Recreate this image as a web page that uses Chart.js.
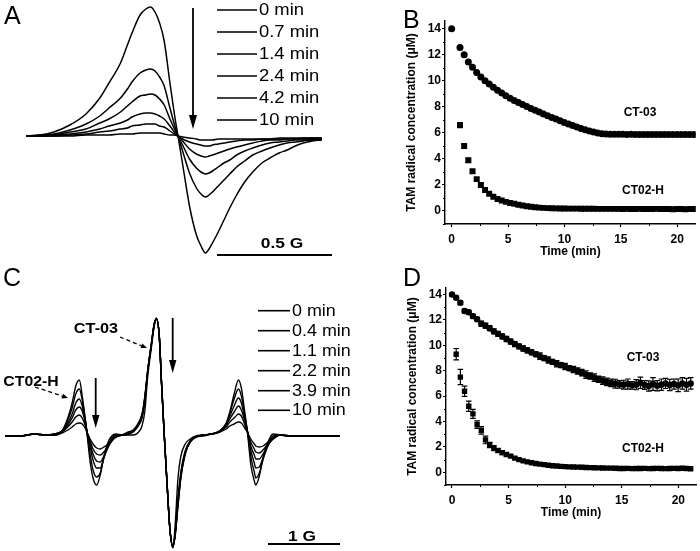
<!DOCTYPE html>
<html>
<head>
<meta charset="utf-8">
<script src="https://cdn.jsdelivr.net/npm/chart.js@4.4.0/dist/chart.umd.min.js"></script>
<style>
  body { margin: 0; background: #fff; width: 700px; height: 551px; position: relative; overflow: hidden;
         font-family: "Liberation Sans", Arial, sans-serif; }
  canvas { position: absolute; }
  .t { position: absolute; line-height: 1; white-space: nowrap; color: #000; transform-origin: left center; }
  svg { position: absolute; left: 0; top: 0; }
</style>
</head>
<body>
<canvas id="cA" width="350" height="270" style="left:0;top:0"></canvas>
<canvas id="cB" width="350" height="270" style="left:350px;top:0"></canvas>
<canvas id="cC" width="350" height="271" style="left:0;top:280px"></canvas>
<canvas id="cD" width="350" height="271" style="left:350px;top:280px"></canvas>

<svg width="700" height="551">
  <g stroke="#000" stroke-width="1.6" fill="none">
    <!-- legend A -->
    <line x1="217" y1="10" x2="257" y2="10"/><line x1="217" y1="32" x2="257" y2="32"/>
    <line x1="217" y1="54" x2="257" y2="54"/><line x1="217" y1="76" x2="257" y2="76"/>
    <line x1="217" y1="98" x2="257" y2="98"/><line x1="217" y1="120" x2="257" y2="120"/>
    <line x1="217" y1="255" x2="332" y2="255" stroke-width="2"/>
    <line x1="193" y1="8" x2="193" y2="118" stroke-width="1.8"/>
    <!-- legend C -->
    <line x1="258" y1="310.7" x2="290" y2="310.7"/><line x1="258" y1="330.7" x2="290" y2="330.7"/>
    <line x1="258" y1="350.7" x2="290" y2="350.7"/><line x1="258" y1="370.7" x2="290" y2="370.7"/>
    <line x1="258" y1="390.7" x2="290" y2="390.7"/><line x1="258" y1="410.3" x2="290" y2="410.3"/>
    <line x1="268" y1="544" x2="340" y2="544" stroke-width="2"/>
    <line x1="95.7" y1="378" x2="95.7" y2="418" stroke-width="1.8"/>
    <line x1="172.7" y1="318" x2="172.7" y2="363" stroke-width="1.8"/>
    <line x1="120" y1="337" x2="142" y2="346" stroke-width="1.3" stroke-dasharray="4 3"/>
    <line x1="35" y1="387" x2="63" y2="396.3" stroke-width="1.3" stroke-dasharray="4 3"/>
  </g>
  <g fill="#000">
    <polygon points="189,115 197,115 193,129"/>
    <polygon points="92,415 99.4,415 95.7,428"/>
    <polygon points="169,360 176.4,360 172.7,373"/>
    <polygon points="147,348 140.5,348 142.4,343.4"/>
    <polygon points="68,398 61.5,398.5 63.1,393.7"/>
  </g>
</svg>

<script>
// ---- panel A: EPR spectra (field in G, signal in arbitrary units)
const fieldA = [-0.66,-0.6,-0.54,-0.47,-0.4,-0.34,-0.3,-0.25,-0.22,-0.2,-0.165,-0.14,-0.12,-0.1,-0.08,-0.06,-0.035,-0.015,0,0.02,
  0.05,0.08,0.1,0.12,0.135,0.15,0.175,0.2,0.225,0.255,0.29,0.325,0.365,0.4,0.44,0.475,0.51,0.545,0.585,0.625];
const a0min  = [0,1,4,11,22,38,53,73,91,103,121,127,129,124,113,95,53,21,0,-28,-70,-99,-110,-117,-113,-107,-96,-84,-72,-59,-46,-36,-27,-22,-17,-14,-10,-7,-5,-4];
const a07min = [0,1,2,6,12,20,28,38,47,54,63,66,67,65,59,50,28,11,0,-15,-37,-52,-58,-61,-59,-56,-50,-44,-38,-31,-25,-19,-15,-12,-9,-7,-6,-5,-4,-4];
const a14min = [0,0,1,4,7,13,17,24,30,34,40,41,42,41,37,31,17,7,0,-9,-23,-32,-36,-38,-37,-35,-31,-27,-24,-19,-15,-12,-9,-7,-6,-5,-4,-4,-3,-3];
const a24min = [0,0,1,2,4,7,10,13,16,19,22,23,23,22,20,17,10,4,0,-5,-13,-18,-20,-21,-20,-19,-17,-15,-13,-11,-9,-7,-5,-4,-4,-3,-3,-3,-3,-3];
const a42min = [0,0,0,1,2,4,5,7,8,10,11,12,12,12,10,9,5,2,0,-3,-6,-8,-9,-10,-10,-9,-8,-7,-6,-5,-4,-4,-3,-3,-3,-3,-3,-2,-2,-2];
const a10min = [0,0,0,0,1,1,1,2,2,2,3,3,3,3,3,2,1,1,0,-1,-2,-3,-4,-4,-4,-4,-3,-3,-3,-3,-3,-3,-3,-3,-2,-2,-2,-2,-2,-2];
const legendA = ['0 min','0.7 min','1.4 min','2.4 min','4.2 min','10 min'];

// ---- panel C: mixture spectra
const fieldC = [-2.21,-2.0,-1.8,-1.66,-1.52,-1.42,-1.34,-1.28,-1.23,-1.18,-1.14,-1.1,-1.07,-1.03,-0.99,-0.94,-0.89,-0.84,-0.78,-0.73,
  -0.67,-0.59,-0.5,-0.43,-0.37,-0.31,-0.27,-0.23,-0.18,-0.14,-0.11,-0.07,-0.04,0,0.04,0.08,0.12,0.15,0.19,0.23,
  0.29,0.36,0.44,0.54,0.66,0.77,0.86,0.91,0.97,1.03,1.07,1.11,1.16,1.2,1.25,1.27,1.32,1.37,1.44,1.51,1.61,1.75,1.95,2.16,2.44];
const c0min  = [0,0,2,1, 1,5,18,33,50,56,40,18,0, -26,-42,-49,-39,-21,-6,0,2,1,1, 1,3,10,25,60,88,110,118,100,55, 0,-50,-95,-112,-90,-42,-20,-8,-3,0, 1,2,4,12,24,42,56,48,28,0, -28,-45,-49,-40,-22,-6,2,1,0,0,0,0];
const c04min = [0,0,2,1, 1,5,16,28,42,47,36,18,2, -18,-34,-41,-37,-22,-9,-2,1,1,2, 4,9,18,35,64,91,111,117,100,55, 0,-50,-95,-111,-97,-62,-36,-15,-5,-1, 1,2,5,13,23,37,47,40,24,2, -20,-36,-42,-37,-24,-9,0,1,0,0,0,0];
const c11min = [0,0,2,1, 2,5,13,22,33,37,30,16,3, -11,-24,-32,-32,-22,-11,-4,0,1,2, 5,10,19,37,65,91,112,117,100,55, 0,-50,-95,-111,-98,-65,-38,-16,-5,-1, 1,2,5,12,20,30,38,33,20,3, -14,-27,-32,-31,-22,-10,-2,1,0,0,0,0];
const c22min = [0,0,2,1, 2,5,11,18,26,29,25,14,3, -8,-18,-25,-26,-20,-11,-5,-1,1,2, 5,11,20,38,65,92,112,117,100,55, 0,-50,-95,-111,-99,-67,-40,-17,-6,-1, 1,2,5,11,17,24,30,26,17,3, -10,-19,-23,-23,-18,-9,-3,1,0,0,0,0];
const c39min = [0,0,2,1, 2,4,9,14,19,21,18,11,3, -5,-13,-18,-19,-16,-10,-5,-1,1,3, 6,11,21,39,66,92,112,117,100,55, 0,-50,-95,-110,-100,-69,-41,-18,-6,-1, 1,2,5,9,14,18,22,20,13,3, -6,-13,-16,-17,-14,-8,-3,1,0,0,0,0];
const c10min = [0,0,2,1, 1,3,6,9,12,13,12,8,3, -3,-8,-12,-13,-11,-8,-4,-1,1,4, 6,12,22,40,66,92,112,117,100,55, 0,-50,-95,-110,-100,-70,-42,-18,-6,-1, 0,2,4,7,10,12,14,13,9,3, -3,-8,-10,-11,-10,-6,-2,1,0,0,0,0];
const legendC = ['0 min','0.4 min','1.1 min','2.2 min','3.9 min','10 min'];

// ---- panels B and D: radical concentration (uM) vs time (min)
const timeMin = [0,0.37,0.74,1.11,1.48,1.85,2.22,2.59,2.96,3.33,3.70,4.07,4.44,4.81,5.18,5.55,5.92,6.29,6.66,7.03,
  7.40,7.77,8.14,8.51,8.88,9.25,9.62,9.99,10.36,10.73,11.10,11.47,11.84,12.21,12.58,12.95,13.32,13.69,14.06,14.43,
  14.80,15.17,15.54,15.91,16.28,16.65,17.02,17.39,17.76,18.13,18.50,18.87,19.24,19.61,19.98,20.35,20.72,21.09,21.46];
const bCT03 = [14.0,null,12.56,12.0,11.45,11.05,10.65,10.3,10.0,9.75, 9.5,9.28,9.06,8.86,8.67,8.5,8.34,8.18,8.03,7.88,
  7.74,7.6,7.46,7.32,7.19,7.06,6.93,6.8,6.68,6.56, 6.45,6.34,6.24,6.15,6.07,6.0,5.94,5.91,5.9,5.9,
  5.89,5.89,5.88,5.89,5.88,5.88,5.87,5.88,5.88,5.87, 5.88,5.87,5.88,5.87,5.87,5.88,5.87,5.87,5.87];
const bCT02H = [null,null,6.6,5.0,3.9,3.05,2.45,2.0,1.62,1.32, 1.1,0.92,0.8,0.7,0.62,0.55,0.48,0.42,0.37,0.33,
  0.29,0.26,0.24,0.22,0.21,0.2,0.19,0.19,0.18,0.18, 0.18,0.17,0.17,0.17,0.17,0.16,0.16,0.16,0.16,0.16,
  0.16,0.15,0.16,0.15,0.15,0.16,0.15,0.15,0.15,0.16, 0.15,0.15,0.15,0.14,0.15,0.15,0.14,0.15,0.15];
const bErrCT02H = [0,0,0.2,0.15,0.15,0.12,0.12,0.1];
const dCT03 = [14.0,13.75,13.35,12.7,12.6,12.3,12.05,11.7,11.55,11.35, 11.1,10.9,10.7,10.5,10.3,10.1,9.92,9.75,9.6,9.45,
  9.3,9.15,9.0,8.85,8.7,8.55,8.45,8.33,8.2,8.1, 7.98,7.85,7.7,7.58,7.45,7.33,7.22,7.12,7.05,6.98,
  6.92,6.9,6.95,6.85,6.9,7.05,6.88,6.8,6.95,6.82, 6.9,7.0,6.88,6.95,6.85,7.0,6.9,7.0,null];
const dErrCT03 = [0.1,0.12,0.15,0.15,0.15,0.15,0.15,0.2,0.2,0.2, 0.2,0.2,0.2,0.2,0.2,0.2,0.2,0.2,0.2,0.2,
  0.2,0.25,0.2,0.25,0.2,0.25,0.2,0.25,0.2,0.25, 0.25,0.25,0.3,0.25,0.3,0.25,0.3,0.3,0.3,0.35,
  0.3,0.35,0.4,0.3,0.4,0.45,0.35,0.4,0.5,0.4, 0.45,0.4,0.45,0.4,0.5,0.45,0.5,0.45,0];
const dCT02H = [null,9.3,7.5,6.38,5.2,4.6,3.75,3.3,2.55,2.15, 1.9,1.72,1.55,1.4,1.27,1.12,1.0,0.9,0.82,0.75,
  0.69,0.64,0.6,0.56,0.52,0.5,0.47,0.45,0.43,0.42, 0.41,0.4,0.38,0.37,0.36,0.35,0.34,0.33,0.33,0.32,
  0.3,0.3,0.31,0.29,0.3,0.3,0.31,0.29,0.3,0.31, 0.3,0.29,0.3,0.31,0.3,0.32,0.3,0.28,null];
const dErrCT02H = [0,0.45,0.6,0.4,0.4,0.35,0.3,0.3,0.3,0.2, 0.2,0.15,0.15,0.12,0.1,0.1,0.1,0.1,0.1,0.1,
  0.1,0.1,0.1,0.1,0.1,0.1,0.08,0.08,0.08,0.08];
const xTicks = [0,5,10,15,20];
const yTicks = [0,2,4,6,8,10,12,14];
const xMinor = [2.5,7.5,12.5,17.5];
const yMinor = [-1,1,3,5,7,9,11,13];

const FONT = 'Liberation Sans';

// text labels as html
function label(text, x, cy, size, bold, center, sx) {
  const d = document.createElement('div');
  d.className = 't';
  d.textContent = text;
  d.style.fontSize = size + 'px';
  d.style.fontWeight = bold ? 'bold' : 'normal';
  d.style.top = (cy - 0.4885 * size) + 'px';
  d.style.left = x + 'px';
  let tr = '';
  if (center) { tr += 'translateX(-50%) '; d.style.transformOrigin = 'center center'; }
  if (sx) tr += 'scaleX(' + sx + ')';
  d.style.transform = tr;
  document.body.appendChild(d);
}

// spectra panels: no axes, chart area = whole canvas
function spectrum(id, field, curves, xmin, xmax, ymin, ymax, lw) {
  new Chart(document.getElementById(id), {
    type: 'line',
    data: {
      datasets: curves.map(c => ({
        data: field.map((x, i) => ({ x: x, y: c[i] })),
        borderColor: '#000', borderWidth: lw, pointRadius: 0,
        cubicInterpolationMode: 'monotone', fill: false
      }))
    },
    options: {
      responsive: false, animation: false, devicePixelRatio: 1,
      layout: { padding: 0 },
      plugins: { legend: { display: false }, tooltip: { enabled: false } },
      scales: {
        x: { type: 'linear', display: false, min: xmin, max: xmax },
        y: { display: false, min: ymin, max: ymax }
      }
    }
  });
}

spectrum('cA', fieldA, [a0min, a07min, a14min, a24min, a42min, a10min], -0.774, 0.748, -134, 136, 1.5);
spectrum('cC', fieldC, [c0min, c04min, c11min, c22min, c39min, c10min], -2.282, 2.579, -115, 156, 1.4);

// error bars + minor ticks
const errorBars = {
  id: 'errorBars',
  afterDatasetsDraw(chart) {
    const { ctx, scales: { x, y } } = chart;
    ctx.save();
    ctx.strokeStyle = '#000';
    ctx.lineWidth = 1.2;
    chart.data.datasets.forEach(ds => {
      ds.data.forEach(p => {
        if (!p.e) return;
        const px = x.getPixelForValue(p.x);
        const y1 = y.getPixelForValue(p.y + p.e), y2 = y.getPixelForValue(p.y - p.e);
        ctx.beginPath();
        ctx.moveTo(px, y1); ctx.lineTo(px, y2);
        ctx.moveTo(px - 2.8, y1); ctx.lineTo(px + 2.8, y1);
        ctx.moveTo(px - 2.8, y2); ctx.lineTo(px + 2.8, y2);
        ctx.stroke();
      });
    });
    ctx.restore();
  }
};
const minorTicks = {
  id: 'minorTicks',
  afterDraw(chart) {
    const { ctx, scales: { x, y }, chartArea: a } = chart;
    ctx.save();
    ctx.strokeStyle = '#000';
    ctx.lineWidth = 1;
    ctx.beginPath();
    xMinor.forEach(v => { const p = Math.round(x.getPixelForValue(v)) + 0.5; ctx.moveTo(p, a.bottom); ctx.lineTo(p, a.bottom + 2); });
    yMinor.forEach(v => { const p = Math.round(y.getPixelForValue(v)) + 0.5; ctx.moveTo(a.left, p); ctx.lineTo(a.left - 2, p); });
    ctx.stroke();
    ctx.restore();
  }
};

function pts(vals, err) {
  return timeMin.map((t, i) => ({ x: t, y: vals[i], e: (err && err[i]) || 0 })).filter(p => p.y !== null && p.y !== undefined);
}

function decay(id, sets, xr, yr, pad) {
  const tickFont = { family: FONT, size: 12, weight: 'bold' };
  new Chart(document.getElementById(id), {
    type: 'scatter',
    data: { datasets: sets },
    options: {
      responsive: false, animation: false, devicePixelRatio: 1,
      layout: { padding: pad },
      plugins: { legend: { display: false }, tooltip: { enabled: false } },
      scales: {
        x: {
          type: 'linear', min: xr[0], max: xr[1],
          afterBuildTicks: s => { s.ticks = xTicks.map(v => ({ value: v })); },
          afterFit: s => { s.height = 36; },
          ticks: { color: '#000', font: tickFont, padding: 5, maxRotation: 0 },
          grid: { drawOnChartArea: false, drawTicks: true, tickLength: 3, tickColor: '#000', tickWidth: 1.2 },
          border: { display: true, color: '#000', width: 1.4 },
          title: { display: true, text: 'Time (min)', color: '#000', font: tickFont, padding: { top: 0, bottom: 1 } }
        },
        y: {
          min: yr[0], max: yr[1],
          afterBuildTicks: s => { s.ticks = yTicks.map(v => ({ value: v })); },
          afterFit: s => { s.width = 46; },
          ticks: { color: '#000', font: tickFont, padding: 1 },
          grid: { drawOnChartArea: false, drawTicks: true, tickLength: 3, tickColor: '#000', tickWidth: 1.2 },
          border: { display: true, color: '#000', width: 1.4 },
          title: { display: true, text: 'TAM radical concentration (\u03bcM)', color: '#000', font: tickFont, padding: { top: 5, bottom: 0 } }
        }
      }
    },
    plugins: [errorBars, minorTicks]
  });
}

function marks(data, style, r) {
  return { data: data, pointStyle: style, pointRadius: r, backgroundColor: '#000', borderColor: '#000', borderWidth: 0, showLine: false };
}

decay('cB', [marks(pts(bCT03), 'circle', 3.5), marks(pts(bCT02H, bErrCT02H), 'rect', 4.2)],
  [-0.59, 21.65], [-1, 14.6], { left: 49, top: 21, right: 3, bottom: 10 });
decay('cD', [marks(pts(dCT03, dErrCT03), 'circle', 3.2), marks(pts(dCT02H, dErrCT02H), 'rect', 3.8)],
  [-0.53, 21.56], [-1, 14.5], { left: 50, top: 3, right: 3, bottom: 30 });

// panel letters and annotations
label('A', 4, 15, 25);
label('B', 403, 19, 25);
label('C', 3, 277.5, 25);
label('D', 403, 277.5, 25);

const legA_y = [10, 32, 54, 76, 98, 120];
legendA.forEach((s, i) => label(s, 259, legA_y[i], 16, false, false, 1.15));
label('0.5 G', 282, 243, 15.5, true, true, 1.12);

const legC_y = [310.7, 330.7, 350.7, 370.7, 390.7, 410.3];
legendC.forEach((s, i) => label(s, 292, legC_y[i], 16, false, false, 1.12));
label('CT-03', 95.5, 328, 15.5, true, true, 1.05);
label('CT02-H', 31, 381, 15.5, true, true, 1.02);
label('1 G', 301.5, 536, 15.5, true, true, 1.12);

label('CT-03', 640, 112, 12, true, true);
label('CT02-H', 643, 190, 12, true, true);
label('CT-03', 643, 357, 12, true, true);
label('CT02-H', 643, 448, 12, true, true);
</script>
</body>
</html>
